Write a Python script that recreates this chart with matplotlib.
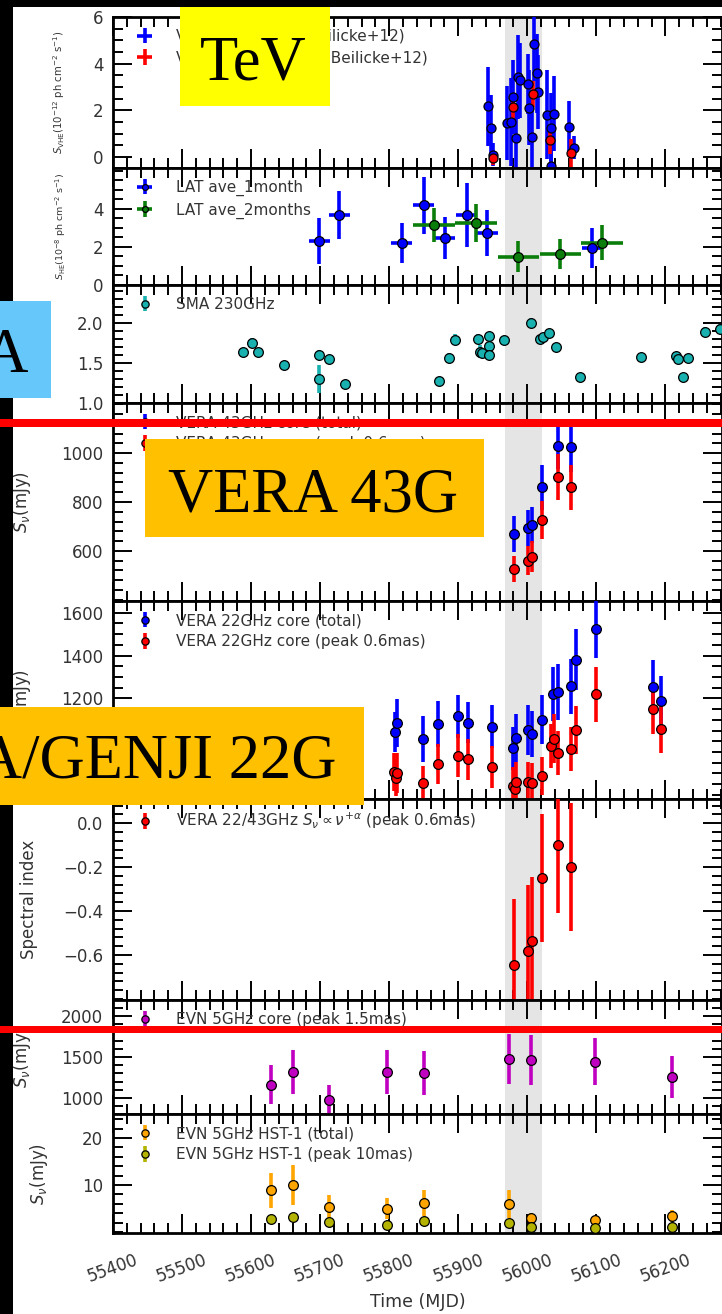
import matplotlib
matplotlib.use("Agg")
import matplotlib.pyplot as plt
from matplotlib.patches import Rectangle
from matplotlib.ticker import MultipleLocator, FixedLocator, FuncFormatter

W, H = 722, 1314

# --- TeV (VERITAS, Beilicke+12)
tev_a_t = [55943, 55947, 55951, 55970, 55976, 55979, 55983, 55987, 55989, 56001, 56003,
           56007, 56009, 56014, 56015, 56029, 56034, 56035, 56038, 56060, 56068]
tev_a_v = [2.17, 1.25, 0.10, 1.46, 1.50, 2.57, 0.80, 3.42, 3.28, 3.13, 2.11,
           0.84, 4.86, 3.59, 2.78, 1.82, 1.25, -0.37, 1.86, 1.29, 0.40]
tev_a_e = [1.7, 1.4, 0.5, 1.6, 1.9, 1.6, 1.4, 1.8, 1.6, 1.3, 1.6,
           1.7, 1.6, 1.7, 1.6, 1.9, 1.5, 1.0, 1.6, 1.1, 0.5]
tev_b_t = [55950, 55979, 56008, 56033, 56063]
tev_b_v = [-0.05, 2.14, 2.71, 0.75, 0.18]
tev_b_e = [0.3, 0.45, 0.55, 0.6, 0.6]

# --- Fermi-LAT
lat1_t = [55699, 55728, 55818, 55850, 55881, 55912, 55942, 56094]
lat1_v = [2.33, 3.68, 2.23, 4.20, 2.46, 3.68, 2.75, 1.93]
lat1_e = [1.2, 1.27, 1.05, 1.5, 1.1, 1.7, 1.2, 1.05]
lat2_t = [55865, 55926, 55987, 56048, 56108]
lat2_v = [3.16, 3.28, 1.49, 1.63, 2.23]
lat2_e = [0.9, 1.0, 0.8, 0.8, 0.9]

# --- SMA 230GHz
sma_t = [55588, 55602, 55610, 55648, 55699, 55699, 55713, 55736, 55872, 55887, 55896,
         55928, 55932, 55935, 55945, 55945, 55944, 55966, 56006, 56018, 56023, 56031,
         56042, 56077, 56165, 56216, 56218, 56225, 56233, 56257, 56279]
sma_v = [1.64, 1.75, 1.64, 1.475, 1.60, 1.30, 1.55, 1.24, 1.28, 1.56, 1.79,
         1.80, 1.64, 1.62, 1.84, 1.71, 1.60, 1.79, 2.00, 1.80, 1.82, 1.87,
         1.70, 1.32, 1.57, 1.59, 1.55, 1.32, 1.56, 1.89, 1.93]
sma_e = [0.05, 0.06, 0.05, 0.05, 0.06, 0.18, 0.05, 0.04, 0.04, 0.06, 0.07,
         0.06, 0.08, 0.06, 0.05, 0.05, 0.06, 0.05, 0.06, 0.05, 0.05, 0.05,
         0.05, 0.05, 0.04, 0.05, 0.05, 0.06, 0.05, 0.06, 0.06]

# --- VERA 43GHz
v43_t = [55981, 56001, 56007, 56021, 56044, 56064]
v43_tot = [669, 693, 706, 860, 1030, 1023]
v43_tot_e = [72, 75, 73, 92, 95, 100]
v43_pk = [525, 560, 577, 727, 903, 860]
v43_pk_e = [53, 60, 62, 77, 94, 92]

# --- VERA/GENJI 22GHz
v22a_t = [55808, 55812, 55849, 55870, 55899, 55914, 55949, 55980, 55984, 56001,
          56007, 56022, 56037, 56044, 56063, 56070, 56100, 56182, 56193]
v22_tot = [1043, 1085, 1009, 1082, 1116, 1087, 1067, 966, 1015, 1051,
           1033, 1101, 1222, 1230, 1257, 1381, 1524, 1253, 1186]
v22_tot_e = [93, 110, 108, 107, 100, 95, 100, 102, 113, 116,
             108, 113, 126, 130, 128, 141, 135, 128, 120]
v22b_t = [55807, 55810, 55812, 55849, 55870, 55899, 55914, 55949, 55980, 55982, 55984,
          56001, 56007, 56022, 56035, 56039, 56044, 56063, 56070, 56100, 56182, 56193]
v22_pk = [857, 827, 850, 803, 893, 932, 915, 878, 791, 775, 811,
          811, 806, 837, 978, 1012, 946, 963, 1054, 1219, 1149, 1059]
v22_pk_e = [89, 85, 93, 81, 95, 101, 97, 98, 89, 85, 90,
            93, 93, 90, 104, 114, 104, 104, 112, 127, 116, 116]

# --- spectral index 22/43
si_t = [55981, 56001, 56007, 56021, 56044, 56064]
si_v = [-0.645, -0.58, -0.535, -0.249, -0.10, -0.199]
si_e = [0.30, 0.30, 0.29, 0.29, 0.31, 0.29]

# --- EVN 5GHz
evn_t = [55629, 55661, 55713, 55797, 55850, 55973, 56006, 56098, 56210]
evn_core = [1159, 1321, 976, 1321, 1309, 1476, 1463, 1443, 1252]
evn_core_e = [238, 270, 185, 270, 270, 310, 300, 290, 258]
hst_tot = [8.9, 10.0, 5.4, 5.0, 6.2, 6.0, 3.0, 2.5, 3.4]
hst_tot_e = [3.7, 4.3, 2.5, 2.3, 2.8, 3.0, 1.0, 1.0, 1.3]
hst_pk = [2.7, 3.3, 2.2, 1.6, 2.3, 2.0, 1.1, 0.8, 1.0]
hst_pk_e = [0.6, 0.6, 0.5, 0.4, 0.5, 0.5, 0.3, 0.3, 0.3]

flare = (55968, 56022)
xlim = (55400, 56282)

# panel edges in pixels (top -> bottom)
edges = [17, 168, 285, 403, 601, 799, 1000, 1114, 1233]
LEFT, RIGHT = 113, 722
grey = "#333333"

fig = plt.figure(figsize=(W / 100, H / 100), dpi=100)
fig.patch.set_facecolor("white")

axes = []
for i in range(8):
    y0, y1 = edges[i], edges[i + 1]
    ax = fig.add_axes([LEFT / W, 1 - y1 / H, (RIGHT - LEFT) / W, (y1 - y0) / H])
    ax.set_xlim(*xlim)
    ax.axvspan(*flare, color="#e5e5e5", lw=0, zorder=0)
    ax.xaxis.set_major_locator(MultipleLocator(100))
    ax.xaxis.set_minor_locator(MultipleLocator(20))
    ax.tick_params(which="both", direction="in", top=True, right=True,
                   labelsize=12, labelcolor=grey, pad=7, width=1.4)
    ax.tick_params(axis="x", pad=13)
    ax.tick_params(which="major", length=14)
    ax.tick_params(which="minor", length=7.5)
    for s in ax.spines.values():
        s.set_linewidth(2)
    if i < 7:
        ax.tick_params(labelbottom=False)
    axes.append(ax)


def eb(ax, x, y, yerr, color, label, xerr=None, ms=7):
    ax.errorbar(x, y, yerr=yerr, xerr=xerr, fmt="o", color=color, mfc=color,
                mec="black", mew=0.9, ms=ms, elinewidth=2.6, capsize=0,
                label=label, zorder=3)


def legend(ax, i, mscale=0.75):
    hpx = edges[i + 1] - edges[i]
    ax.legend(loc="upper left", bbox_to_anchor=(17.0 / (RIGHT - LEFT), 1 - 6.0 / hpx),
              frameon=False, fontsize=11, handlelength=1.1, handletextpad=1.5,
              labelspacing=0.4, borderaxespad=0, borderpad=0.4, labelcolor=grey,
              markerscale=mscale)


def minus_fmt(n):
    return FuncFormatter(lambda v, p: (("%." + str(n) + "f") % v).replace("-", "\u2212"))


# 1 TeV
ax = axes[0]
eb(ax, tev_a_t, tev_a_v, tev_a_e, "#0000ff", "VERITAS nightly (Beilicke+12)", xerr=1, ms=6.5)
eb(ax, tev_b_t, tev_b_v, tev_b_e, "#ff0000", "VERITAS combined (Beilicke+12)", xerr=1, ms=6.5)
ax.set_ylim(-0.47, 6.0)
ax.yaxis.set_major_locator(FixedLocator([0, 2, 4, 6]))
ax.yaxis.set_minor_locator(MultipleLocator(0.5))
ax.set_ylabel(r"$S_{\rm VHE}(10^{-12}$ ph cm$^{-2}$ s$^{-1})$", fontsize=7.3, color=grey)
legend(ax, 0, mscale=0.01)

# 2 LAT
ax = axes[1]
eb(ax, lat1_t, lat1_v, lat1_e, "#0000ff", "LAT ave_1month", xerr=15)
eb(ax, lat2_t, lat2_v, lat2_e, "#0a7d0a", "LAT ave_2months", xerr=30)
ax.set_ylim(0, 6.15)
ax.yaxis.set_major_locator(FixedLocator([0, 2, 4]))
ax.yaxis.set_minor_locator(MultipleLocator(0.5))
ax.set_ylabel(r"$S_{\rm HE}(10^{-8}$ ph cm$^{-2}$ s$^{-1})$", fontsize=6.8, color=grey)
legend(ax, 1, mscale=0.6)

# 3 SMA
ax = axes[2]
eb(ax, sma_t, sma_v, sma_e, "#19b0b0", "SMA 230GHz")
ax.set_ylim(1.0, 2.475)
ax.yaxis.set_major_locator(FixedLocator([1.0, 1.5, 2.0]))
ax.yaxis.set_minor_locator(MultipleLocator(0.1))
ax.yaxis.set_major_formatter(minus_fmt(1))
ax.set_ylabel(r"$S_\nu$(Jy)", fontsize=12, color=grey)
legend(ax, 2)

# 4 VERA 43
ax = axes[3]
eb(ax, v43_t, v43_tot, v43_tot_e, "#0000ff", "VERA 43GHz core (total)")
eb(ax, v43_t, v43_pk, v43_pk_e, "#ff0000", "VERA 43GHz core (peak 0.6mas)")
ax.set_ylim(395, 1205)
ax.yaxis.set_major_locator(FixedLocator([600, 800, 1000]))
ax.yaxis.set_minor_locator(MultipleLocator(40))
ax.set_ylabel(r"$S_\nu$(mJy)", fontsize=12, color=grey)
legend(ax, 3)

# 5 VERA 22
ax = axes[4]
eb(ax, v22a_t, v22_tot, v22_tot_e, "#0000ff", "VERA 22GHz core (total)")
eb(ax, v22b_t, v22_pk, v22_pk_e, "#ff0000", "VERA 22GHz core (peak 0.6mas)")
ax.set_ylim(730, 1655)
ax.yaxis.set_major_locator(FixedLocator([1200, 1400, 1600]))
ax.yaxis.set_minor_locator(MultipleLocator(50))
ax.set_ylabel(r"$S_\nu$(mJy)", fontsize=12, color=grey)
legend(ax, 4)

# 6 spectral index
ax = axes[5]
eb(ax, si_t, si_v, si_e, "#ff0000", r"VERA 22/43GHz $S_\nu\propto\nu^{+\alpha}$ (peak 0.6mas)")
ax.set_ylim(-0.805, 0.11)
ax.yaxis.set_major_locator(FixedLocator([-0.6, -0.4, -0.2, 0.0]))
ax.yaxis.set_minor_locator(MultipleLocator(0.04))
ax.yaxis.set_major_formatter(minus_fmt(1))
ax.set_ylabel("Spectral index", fontsize=12, color=grey)
legend(ax, 5)

# 7 EVN core
ax = axes[6]
eb(ax, evn_t, evn_core, evn_core_e, "#c000c0", "EVN 5GHz core (peak 1.5mas)")
ax.set_ylim(805, 2195)
ax.yaxis.set_major_locator(FixedLocator([1000, 1500, 2000]))
ax.yaxis.set_minor_locator(MultipleLocator(100))
ax.set_ylabel(r"$S_\nu$(mJy)", fontsize=12, color=grey)
legend(ax, 6)

# 8 EVN HST-1
ax = axes[7]
eb(ax, evn_t, hst_tot, hst_tot_e, "#ffa500", "EVN 5GHz HST-1 (total)")
eb(ax, evn_t, hst_pk, hst_pk_e, "#b4b400", "EVN 5GHz HST-1 (peak 10mas)")
ax.set_ylim(-0.2, 25.1)
ax.yaxis.set_major_locator(FixedLocator([10, 20]))
ax.yaxis.set_minor_locator(MultipleLocator(2))
ax.set_ylabel(r"$S_\nu$(mJy)", fontsize=12, color=grey)
ax.set_xlabel("Time (MJD)", fontsize=12.5, color=grey, labelpad=5)
for lab in ax.get_xticklabels():
    lab.set_rotation(20)
    lab.set_ha("center")
legend(ax, 7)

# y-label right edges (pixels from left edge of figure)
label_x = [67, 68, 40, 33, 33, 38, 33, 50]
for ax, lx in zip(axes, label_x):
    ax.yaxis.set_label_coords((lx - LEFT) / (RIGHT - LEFT), 0.5)


# --- overlays drawn on the figure
def box(x0, y0, x1, y1, color, z=10):
    fig.add_artist(Rectangle((x0 / W, 1 - y1 / H), (x1 - x0) / W, (y1 - y0) / H,
                             transform=fig.transFigure, facecolor=color,
                             edgecolor="none", zorder=z))


def label(x, y, s, ha="left"):
    fig.text(x / W, 1 - y / H, s, ha=ha, va="baseline", fontsize=45,
             family="Liberation Serif", color="black", zorder=12)


box(0, 0, 13, H, "black", z=5)
box(0, 0, W, 7, "black", z=5)

box(180, 7, 330, 106, "#ffff00")
label(200, 80, "TeV")
box(0, 301, 51, 398, "#66c8fa")
label(29, 372, "SMA", ha="right")
box(145, 439, 484, 537, "#ffc000")
label(168, 512, "VERA 43G")
box(0, 707, 364, 805, "#ffc000")
label(336, 778, "VERA/GENJI 22G", ha="right")

box(0, 419, W, 427, "#ff0000", z=11)
box(0, 1026, W, 1033, "#ff0000", z=11)

fig.savefig("out.png", dpi=100)
